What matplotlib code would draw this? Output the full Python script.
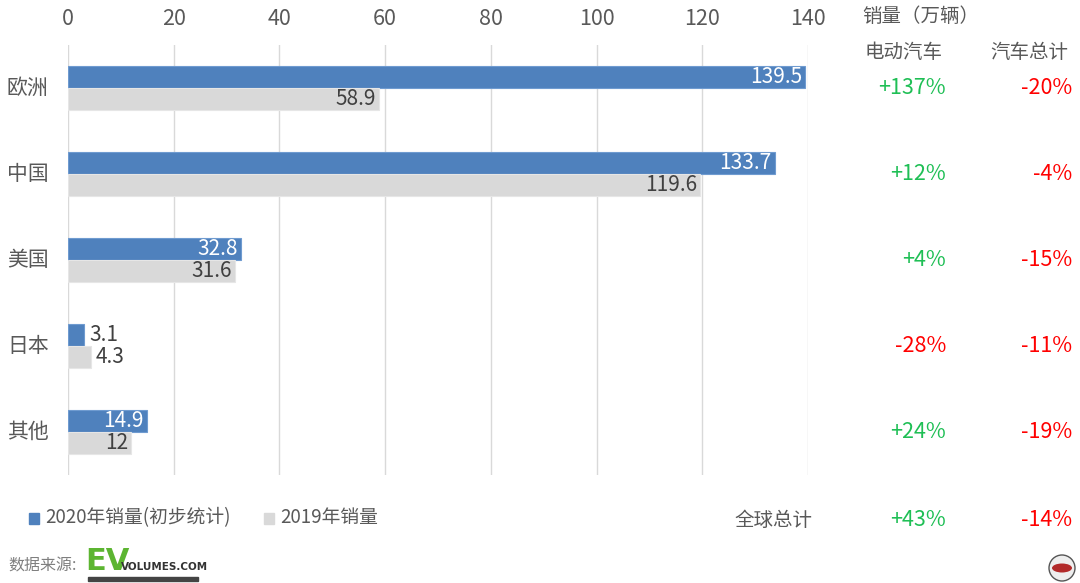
import numpy as np
import matplotlib
matplotlib.use("Agg")
from matplotlib import pyplot as plt
from matplotlib.patches import Ellipse

plt.rcParams['font.family'] = ['Noto Sans CJK SC', 'DejaVu Sans']

regions  = ['欧洲', '中国', '美国', '日本', '其他']
ev_2020  = [139.5, 133.7, 32.8, 3.1, 14.9]
ev_2019  = [58.9, 119.6, 31.6, 4.3, 12]
ev_chg   = ['+137%', '+12%', '+4%', '-28%', '+24%']
car_chg  = ['-20%', '-4%', '-15%', '-11%', '-19%']
world_ev, world_car = '+43%', '-14%'

BLUE, GREY = '#4f81bd', '#d9d9d9'
TXT = '#595959'
GREEN, RED = '#1fbf55', '#ff0000'
W, H = 1080, 583

def sign_col(s):
    return GREEN if s.startswith('+') else RED

fig = plt.figure(figsize=(10.8, 5.83), dpi=100)
ax = fig.add_axes([68/W, 1-475/H, 740/W, 430/H])

y = np.arange(len(regions))
h = 0.256
ax.barh(y - h/2, ev_2020, height=h, color=BLUE, edgecolor='#6f9bd0', linewidth=0.8, zorder=3)
ax.barh(y + h/2, ev_2019, height=h, color=GREY, edgecolor='#e6e6e6', linewidth=0.8, zorder=3)

# value labels: inside the bar end, or just outside when the bar is short
for yy, v, inside_col in [(y - h/2, ev_2020, 'white'), (y + h/2, ev_2019, '#404040')]:
    for k in range(len(v)):
        lab = ('%g' % v[k])
        if v[k] > 10:
            ax.text(v[k] - 0.6, yy[k], lab, ha='right', va='center', fontsize=15,
                    color=inside_col, zorder=4)
        else:
            ax.text(v[k] + 0.9, yy[k], lab, ha='left', va='center', fontsize=15,
                    color='#404040', zorder=4)

ax.set_xlim(0, 140)
ax.set_ylim(4.5, -0.5)
ax.set_xticks(range(0, 141, 20))
ax.xaxis.tick_top()
ax.tick_params(axis='x', length=0, labelsize=15.5, labelcolor=TXT, pad=11)
ax.set_yticks([])
ax.grid(axis='x', color='#d9d9d9', linewidth=1, zorder=0)
for s in ax.spines.values():
    s.set_visible(False)

# category names and right-hand columns
fig.text(862/W, 1-16/H, '销量（万辆）', fontsize=14, color=TXT, va='center')
fig.text(865/W, 1-52/H, '电动汽车', fontsize=14, color=TXT, va='center')
fig.text(990/W, 1-52/H, '汽车总计', fontsize=14, color=TXT, va='center')
for k in range(len(regions)):
    yf = ax.transData.transform((0, y[k]))[1] / fig.bbox.height
    fig.text(7/W, yf, regions[k], ha='left', va='center', fontsize=15, color=TXT)
    fig.text(946/W, yf, ev_chg[k], ha='right', va='center', fontsize=15.5,
             color=sign_col(ev_chg[k]))
    fig.text(1072/W, yf, car_chg[k], ha='right', va='center', fontsize=15.5,
             color=sign_col(car_chg[k]))

fig.text(812/W, 1-520/H, '全球总计', ha='right', va='center', fontsize=14, color=TXT)
fig.text(946/W, 1-520/H, world_ev, ha='right', va='center', fontsize=15.5, color=sign_col(world_ev))
fig.text(1072/W, 1-520/H, world_car, ha='right', va='center', fontsize=15.5, color=sign_col(world_car))

# legend
fig.patches.append(plt.Rectangle((29/W, 1-524/H), 10/W, 11/H, color=BLUE,
                                 transform=fig.transFigure, figure=fig))
fig.text(45/W, 1-518/H, '2020年销量(初步统计)', va='center', fontsize=13.5, color=TXT)
fig.patches.append(plt.Rectangle((264/W, 1-524/H), 10/W, 11/H, color=GREY,
                                 transform=fig.transFigure, figure=fig))
fig.text(280/W, 1-518/H, '2019年销量', va='center', fontsize=13.5, color=TXT)

# source
fig.text(8/W, 1-566/H, '数据来源:', va='center', fontsize=11.5, color='#7f7f7f')
fig.text(85/W, 1-561/H, 'EV', va='center', fontsize=22, color='#5cb531',
         fontweight='bold', family='DejaVu Sans')
fig.text(121/W, 1-567/H, 'VOLUMES.COM', va='center', fontsize=7.5, color='#333333',
         fontweight='bold', family='DejaVu Sans')
fig.patches.append(plt.Rectangle((88/W, 1-581/H), 110/W, 4/H, color='#444444',
                                 transform=fig.transFigure, figure=fig))
fig.patches.append(Ellipse((1062/W, 1-568/H), 26/W, 26/H, fc='#eeeeee', ec='#555555',
                           transform=fig.transFigure, figure=fig))
fig.patches.append(Ellipse((1062/W, 1-568/H), 20/W, 9/H, fc='#b22a2a', ec='none',
                           transform=fig.transFigure, figure=fig))

plt.savefig('out.png', dpi=100)
